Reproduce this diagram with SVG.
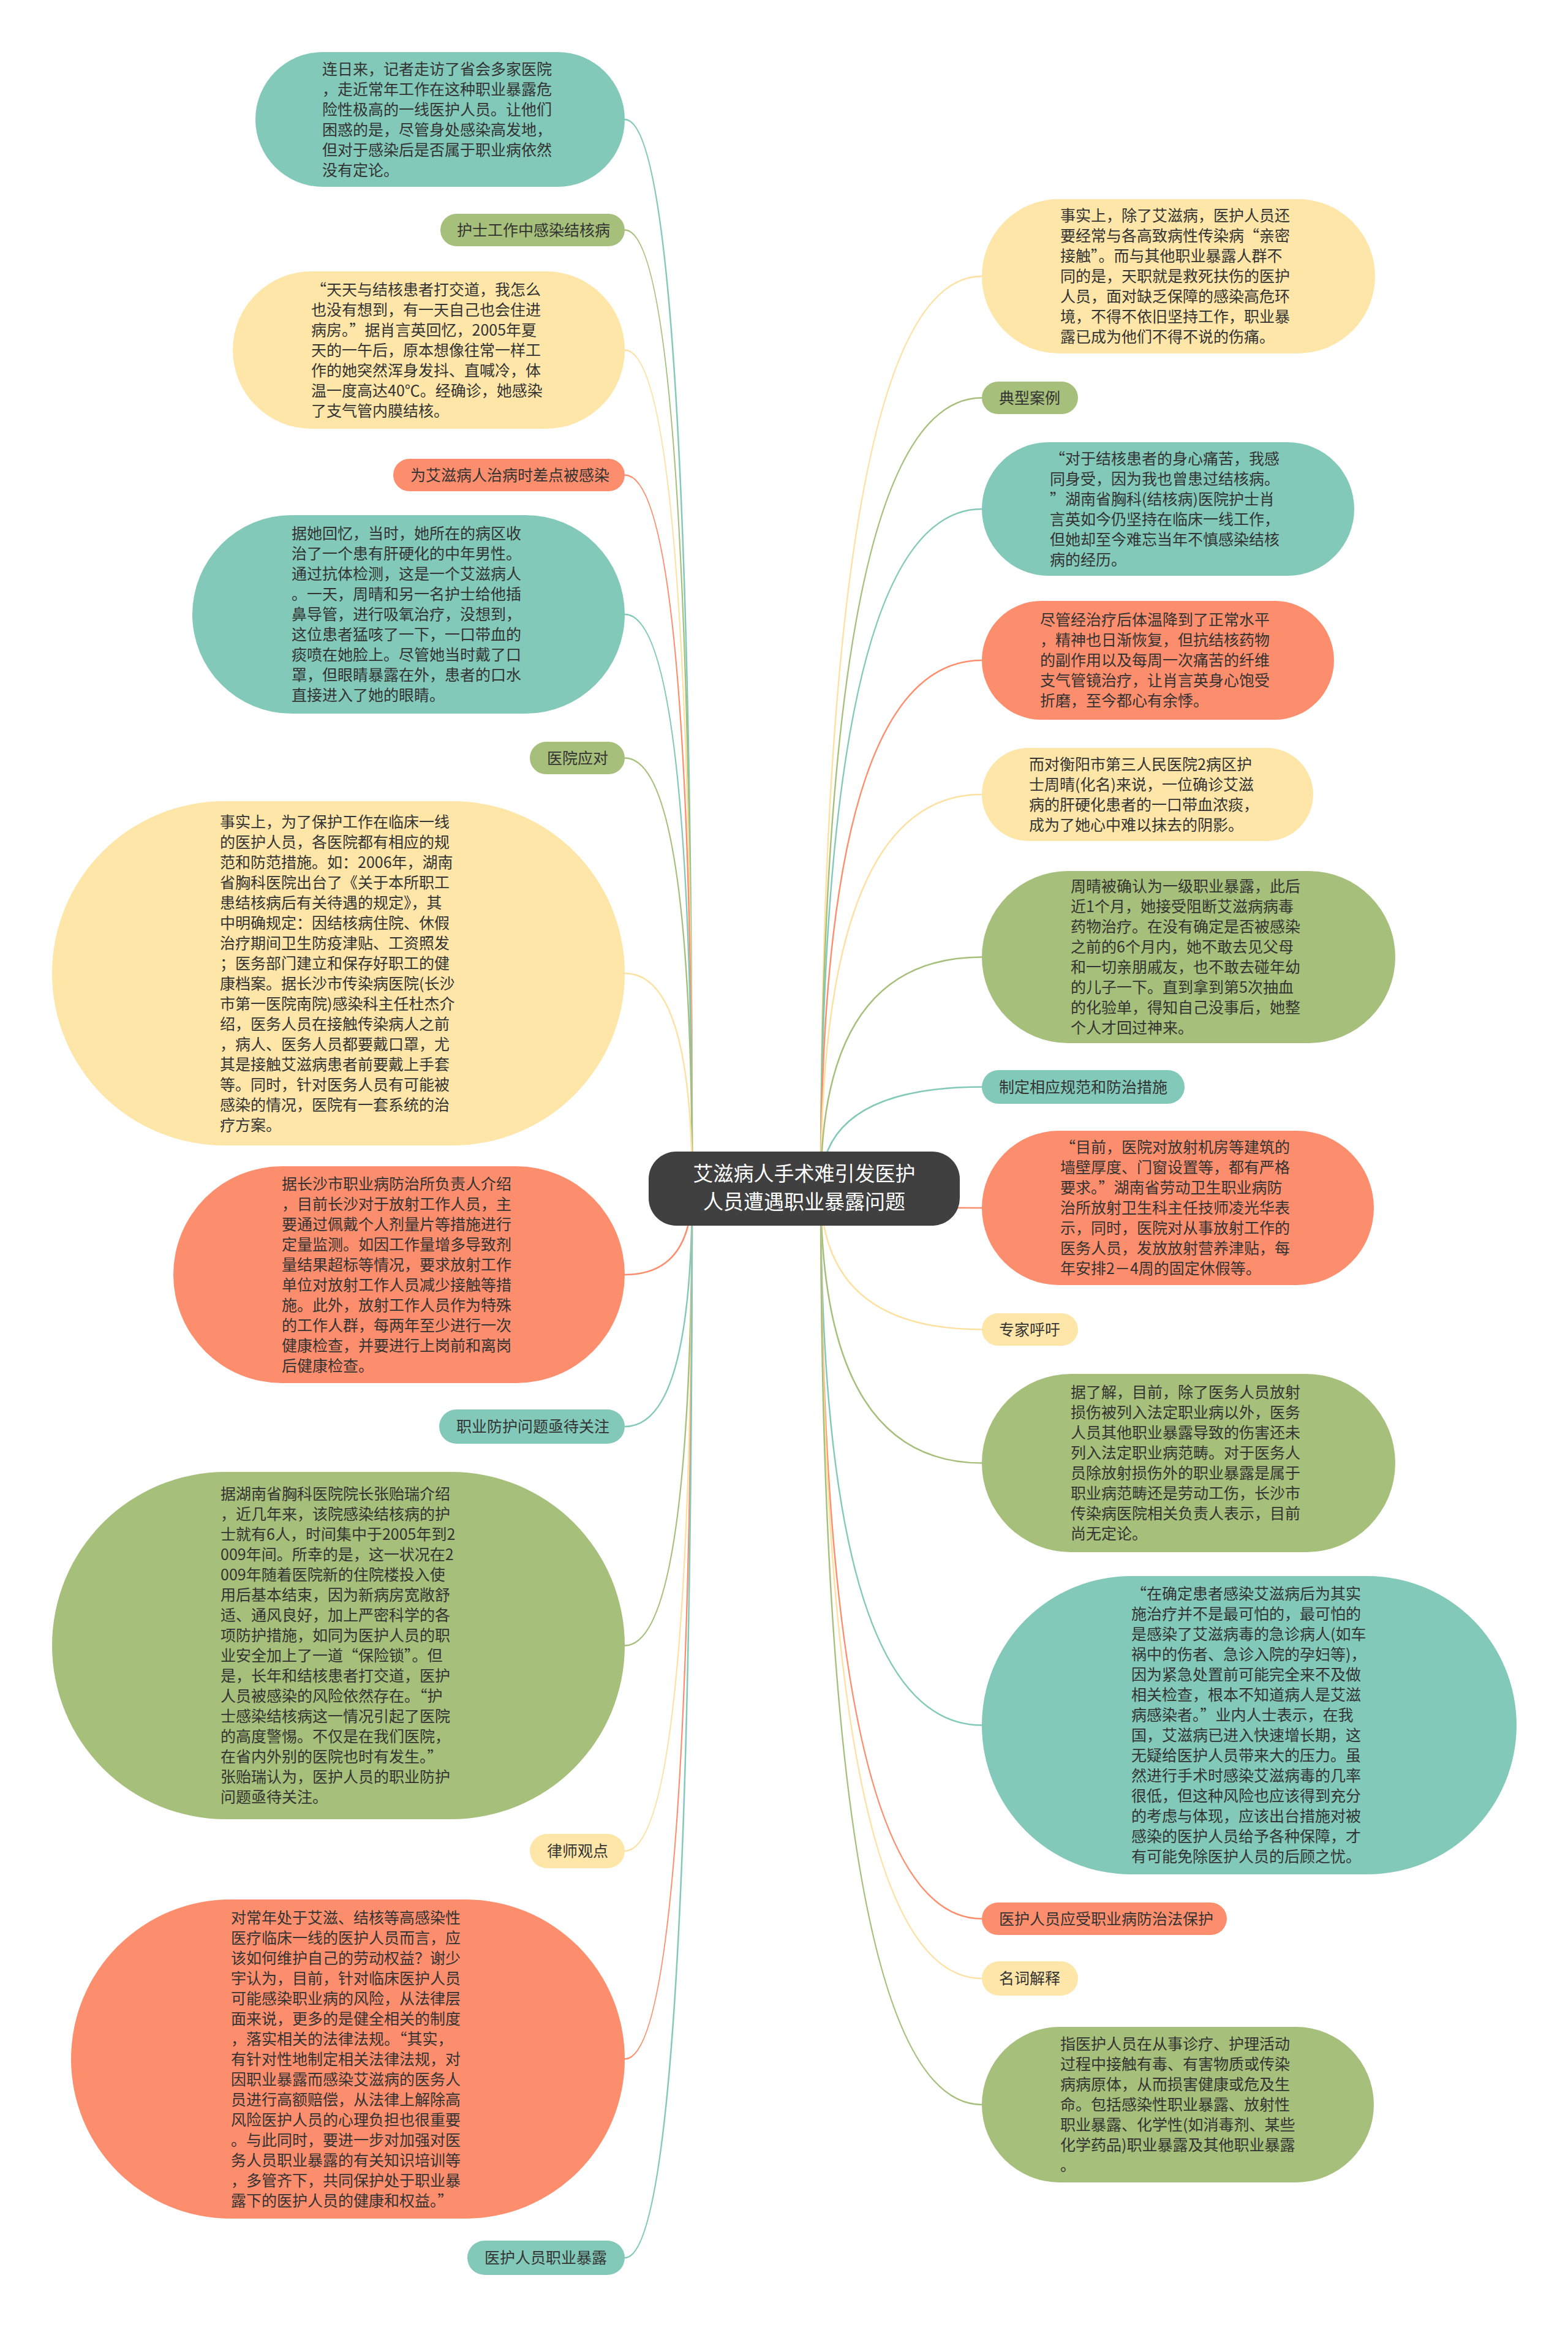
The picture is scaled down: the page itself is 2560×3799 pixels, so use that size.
<svg xmlns="http://www.w3.org/2000/svg" width="2560" height="3799" viewBox="0 0 2560 3799">
<style>
.t{font-family:"Noto Sans CJK SC","Noto Sans",sans-serif;font-size:25px;fill:#333333}
.c{font-family:"Noto Sans CJK SC","Noto Sans",sans-serif;font-size:33px;fill:#ffffff;text-anchor:middle}
.teal{fill:#82c9b9}.green{fill:#a6bf7a}.yellow{fill:#fee6a9}.orange{fill:#fd8e6d}
.lteal{stroke:#82c9b9}.lgreen{stroke:#a6bf7a}.lyellow{stroke:#fee0a0}.lorange{stroke:#fd8e6d}
#links path{fill:none;stroke-width:2.5}
</style>
<rect width="2560" height="3799" fill="#ffffff"/>
<g id="links">
<path class="lteal" d="M1130 1940 Q1130 195 1020 195"/>
<path class="lgreen" d="M1130 1940 Q1130 375.5 1020 375.5"/>
<path class="lyellow" d="M1130 1940 Q1130 571.5 1020 571.5"/>
<path class="lorange" d="M1130 1940 Q1130 775.5 1020 775.5"/>
<path class="lteal" d="M1130 1940 Q1130 1003 1020 1003"/>
<path class="lgreen" d="M1130 1940 Q1130 1237.5 1020 1237.5"/>
<path class="lyellow" d="M1130 1940 Q1130 1589 1020 1589"/>
<path class="lorange" d="M1130 1940 Q1130 2081 1020 2081"/>
<path class="lteal" d="M1130 1940 Q1130 2329 1020 2329"/>
<path class="lgreen" d="M1130 1940 Q1130 2686.5 1020 2686.5"/>
<path class="lyellow" d="M1130 1940 Q1130 3022 1020 3022"/>
<path class="lorange" d="M1130 1940 Q1130 3361.5 1020 3361.5"/>
<path class="lteal" d="M1130 1940 Q1130 3686 1020 3686"/>
<path class="lyellow" d="M1340 1940 Q1340 451 1603 451"/>
<path class="lgreen" d="M1340 1940 Q1340 649.5 1603 649.5"/>
<path class="lteal" d="M1340 1940 Q1340 831 1603 831"/>
<path class="lorange" d="M1340 1940 Q1340 1078 1603 1078"/>
<path class="lyellow" d="M1340 1940 Q1340 1297 1603 1297"/>
<path class="lgreen" d="M1340 1940 Q1340 1562.5 1603 1562.5"/>
<path class="lteal" d="M1340 1940 Q1340 1774.5 1603 1774.5"/>
<path class="lorange" d="M1340 1940 Q1340 1972 1603 1972"/>
<path class="lyellow" d="M1340 1940 Q1340 2170.5 1603 2170.5"/>
<path class="lgreen" d="M1340 1940 Q1340 2388.5 1603 2388.5"/>
<path class="lteal" d="M1340 1940 Q1340 2816.5 1603 2816.5"/>
<path class="lorange" d="M1340 1940 Q1340 3132.5 1603 3132.5"/>
<path class="lyellow" d="M1340 1940 Q1340 3230 1603 3230"/>
<path class="lgreen" d="M1340 1940 Q1340 3436 1603 3436"/>
</g>
<g id="center">
<rect x="1059" y="1880" width="508" height="121" rx="45" fill="#404040"/>
<text class="c" x="1313" y="1928">艾滋病人手术难引发医护</text>
<text class="c" x="1313" y="1974">人员遭遇职业暴露问题</text>
</g>
<g id="L1">
<rect class="teal" x="417" y="85" width="603" height="220" rx="110"/>
<text class="t" x="526" y="121.5"><tspan x="526">连日来，记者走访了省会多家医院</tspan><tspan x="526" dy="33">，走近常年工作在这种职业暴露危</tspan><tspan x="526" dy="33">险性极高的一线医护人员。让他们</tspan><tspan x="526" dy="33">困惑的是，尽管身处感染高发地，</tspan><tspan x="526" dy="33">但对于感染后是否属于职业病依然</tspan><tspan x="526" dy="33">没有定论。</tspan></text>
</g>
<g id="L2">
<rect class="green" x="719" y="349" width="301" height="53" rx="26.5"/>
<text class="t" x="746" y="384.5">护士工作中感染结核病</text>
</g>
<g id="L3">
<rect class="yellow" x="380" y="443" width="640" height="257" rx="128.5"/>
<text class="t" x="508" y="481.5"><tspan x="508">“天天与结核患者打交道，我怎么</tspan><tspan x="508" dy="33">也没有想到，有一天自己也会住进</tspan><tspan x="508" dy="33">病房。”据肖言英回忆，2005年夏</tspan><tspan x="508" dy="33">天的一午后，原本想像往常一样工</tspan><tspan x="508" dy="33">作的她突然浑身发抖、直喊冷，体</tspan><tspan x="508" dy="33">温一度高达40℃。经确诊，她感染</tspan><tspan x="508" dy="33">了支气管内膜结核。</tspan></text>
</g>
<g id="L4">
<rect class="orange" x="642" y="749" width="378" height="53" rx="26.5"/>
<text class="t" x="670" y="784.5">为艾滋病人治病时差点被感染</text>
</g>
<g id="L5">
<rect class="teal" x="314" y="841" width="706" height="324" rx="162"/>
<text class="t" x="476" y="880"><tspan x="476">据她回忆，当时，她所在的病区收</tspan><tspan x="476" dy="33">治了一个患有肝硬化的中年男性。</tspan><tspan x="476" dy="33">通过抗体检测，这是一个艾滋病人</tspan><tspan x="476" dy="33">。一天，周晴和另一名护士给他插</tspan><tspan x="476" dy="33">鼻导管，进行吸氧治疗，没想到，</tspan><tspan x="476" dy="33">这位患者猛咳了一下，一口带血的</tspan><tspan x="476" dy="33">痰喷在她脸上。尽管她当时戴了口</tspan><tspan x="476" dy="33">罩，但眼睛暴露在外，患者的口水</tspan><tspan x="476" dy="33">直接进入了她的眼睛。</tspan></text>
</g>
<g id="L6">
<rect class="green" x="865" y="1211" width="155" height="53" rx="26.5"/>
<text class="t" x="893" y="1246.5">医院应对</text>
</g>
<g id="L7">
<rect class="yellow" x="85" y="1308" width="935" height="562" rx="281"/>
<text class="t" x="359" y="1350.5"><tspan x="359">事实上，为了保护工作在临床一线</tspan><tspan x="359" dy="33">的医护人员，各医院都有相应的规</tspan><tspan x="359" dy="33">范和防范措施。如：2006年，湖南</tspan><tspan x="359" dy="33">省胸科医院出台了《关于本所职工</tspan><tspan x="359" dy="33">患结核病后有关待遇的规定》，其</tspan><tspan x="359" dy="33">中明确规定：因结核病住院、休假</tspan><tspan x="359" dy="33">治疗期间卫生防疫津贴、工资照发</tspan><tspan x="359" dy="33">；医务部门建立和保存好职工的健</tspan><tspan x="359" dy="33">康档案。据长沙市传染病医院(长沙</tspan><tspan x="359" dy="33">市第一医院南院)感染科主任杜杰介</tspan><tspan x="359" dy="33">绍，医务人员在接触传染病人之前</tspan><tspan x="359" dy="33">，病人、医务人员都要戴口罩，尤</tspan><tspan x="359" dy="33">其是接触艾滋病患者前要戴上手套</tspan><tspan x="359" dy="33">等。同时，针对医务人员有可能被</tspan><tspan x="359" dy="33">感染的情况，医院有一套系统的治</tspan><tspan x="359" dy="33">疗方案。</tspan></text>
</g>
<g id="L8">
<rect class="orange" x="283" y="1904" width="737" height="354" rx="177"/>
<text class="t" x="460" y="1941.5"><tspan x="460">据长沙市职业病防治所负责人介绍</tspan><tspan x="460" dy="33">，目前长沙对于放射工作人员，主</tspan><tspan x="460" dy="33">要通过佩戴个人剂量片等措施进行</tspan><tspan x="460" dy="33">定量监测。如因工作量增多导致剂</tspan><tspan x="460" dy="33">量结果超标等情况，要求放射工作</tspan><tspan x="460" dy="33">单位对放射工作人员减少接触等措</tspan><tspan x="460" dy="33">施。此外，放射工作人员作为特殊</tspan><tspan x="460" dy="33">的工作人群，每两年至少进行一次</tspan><tspan x="460" dy="33">健康检查，并要进行上岗前和离岗</tspan><tspan x="460" dy="33">后健康检查。</tspan></text>
</g>
<g id="L9">
<rect class="teal" x="717" y="2301" width="303" height="56" rx="28"/>
<text class="t" x="745" y="2338">职业防护问题亟待关注</text>
</g>
<g id="L10">
<rect class="green" x="85" y="2403" width="935" height="567" rx="283.5"/>
<text class="t" x="360" y="2448"><tspan x="360">据湖南省胸科医院院长张贻瑞介绍</tspan><tspan x="360" dy="33">，近几年来，该院感染结核病的护</tspan><tspan x="360" dy="33">士就有6人，时间集中于2005年到2</tspan><tspan x="360" dy="33">009年间。所幸的是，这一状况在2</tspan><tspan x="360" dy="33">009年随着医院新的住院楼投入使</tspan><tspan x="360" dy="33">用后基本结束，因为新病房宽敞舒</tspan><tspan x="360" dy="33">适、通风良好，加上严密科学的各</tspan><tspan x="360" dy="33">项防护措施，如同为医护人员的职</tspan><tspan x="360" dy="33">业安全加上了一道“保险锁”。但</tspan><tspan x="360" dy="33">是，长年和结核患者打交道，医护</tspan><tspan x="360" dy="33">人员被感染的风险依然存在。“护</tspan><tspan x="360" dy="33">士感染结核病这一情况引起了医院</tspan><tspan x="360" dy="33">的高度警惕。不仅是在我们医院，</tspan><tspan x="360" dy="33">在省内外别的医院也时有发生。”</tspan><tspan x="360" dy="33">张贻瑞认为，医护人员的职业防护</tspan><tspan x="360" dy="33">问题亟待关注。</tspan></text>
</g>
<g id="L11">
<rect class="yellow" x="865" y="2994" width="155" height="56" rx="28"/>
<text class="t" x="893" y="3031">律师观点</text>
</g>
<g id="L12">
<rect class="orange" x="116" y="3101" width="904" height="521" rx="260.5"/>
<text class="t" x="377" y="3139.5"><tspan x="377">对常年处于艾滋、结核等高感染性</tspan><tspan x="377" dy="33">医疗临床一线的医护人员而言，应</tspan><tspan x="377" dy="33">该如何维护自己的劳动权益？谢少</tspan><tspan x="377" dy="33">宇认为，目前，针对临床医护人员</tspan><tspan x="377" dy="33">可能感染职业病的风险，从法律层</tspan><tspan x="377" dy="33">面来说，更多的是健全相关的制度</tspan><tspan x="377" dy="33">，落实相关的法律法规。“其实，</tspan><tspan x="377" dy="33">有针对性地制定相关法律法规，对</tspan><tspan x="377" dy="33">因职业暴露而感染艾滋病的医务人</tspan><tspan x="377" dy="33">员进行高额赔偿，从法律上解除高</tspan><tspan x="377" dy="33">风险医护人员的心理负担也很重要</tspan><tspan x="377" dy="33">。与此同时，要进一步对加强对医</tspan><tspan x="377" dy="33">务人员职业暴露的有关知识培训等</tspan><tspan x="377" dy="33">，多管齐下，共同保护处于职业暴</tspan><tspan x="377" dy="33">露下的医护人员的健康和权益。”</tspan></text>
</g>
<g id="L13">
<rect class="teal" x="763" y="3658" width="257" height="56" rx="28"/>
<text class="t" x="791" y="3695">医护人员职业暴露</text>
</g>
<g id="R1">
<rect class="yellow" x="1603" y="325" width="642" height="252" rx="126"/>
<text class="t" x="1731" y="361"><tspan x="1731">事实上，除了艾滋病，医护人员还</tspan><tspan x="1731" dy="33">要经常与各高致病性传染病“亲密</tspan><tspan x="1731" dy="33">接触”。而与其他职业暴露人群不</tspan><tspan x="1731" dy="33">同的是，天职就是救死扶伤的医护</tspan><tspan x="1731" dy="33">人员，面对缺乏保障的感染高危环</tspan><tspan x="1731" dy="33">境，不得不依旧坚持工作，职业暴</tspan><tspan x="1731" dy="33">露已成为他们不得不说的伤痛。</tspan></text>
</g>
<g id="R2">
<rect class="green" x="1603" y="623" width="157" height="53" rx="26.5"/>
<text class="t" x="1631" y="658.5">典型案例</text>
</g>
<g id="R3">
<rect class="teal" x="1603" y="722" width="608" height="218" rx="109"/>
<text class="t" x="1714" y="757.5"><tspan x="1714">“对于结核患者的身心痛苦，我感</tspan><tspan x="1714" dy="33">同身受，因为我也曾患过结核病。</tspan><tspan x="1714" dy="33">”湖南省胸科(结核病)医院护士肖</tspan><tspan x="1714" dy="33">言英如今仍坚持在临床一线工作，</tspan><tspan x="1714" dy="33">但她却至今难忘当年不慎感染结核</tspan><tspan x="1714" dy="33">病的经历。</tspan></text>
</g>
<g id="R4">
<rect class="orange" x="1603" y="981" width="575" height="194" rx="97"/>
<text class="t" x="1698" y="1021"><tspan x="1698">尽管经治疗后体温降到了正常水平</tspan><tspan x="1698" dy="33">，精神也日渐恢复，但抗结核药物</tspan><tspan x="1698" dy="33">的副作用以及每周一次痛苦的纤维</tspan><tspan x="1698" dy="33">支气管镜治疗，让肖言英身心饱受</tspan><tspan x="1698" dy="33">折磨，至今都心有余悸。</tspan></text>
</g>
<g id="R5">
<rect class="yellow" x="1603" y="1221" width="541" height="152" rx="76"/>
<text class="t" x="1680" y="1256.5"><tspan x="1680">而对衡阳市第三人民医院2病区护</tspan><tspan x="1680" dy="33">士周晴(化名)来说，一位确诊艾滋</tspan><tspan x="1680" dy="33">病的肝硬化患者的一口带血浓痰，</tspan><tspan x="1680" dy="33">成为了她心中难以抹去的阴影。</tspan></text>
</g>
<g id="R6">
<rect class="green" x="1603" y="1422" width="675" height="281" rx="140.5"/>
<text class="t" x="1748" y="1456"><tspan x="1748">周晴被确认为一级职业暴露，此后</tspan><tspan x="1748" dy="33">近1个月，她接受阻断艾滋病病毒</tspan><tspan x="1748" dy="33">药物治疗。在没有确定是否被感染</tspan><tspan x="1748" dy="33">之前的6个月内，她不敢去见父母</tspan><tspan x="1748" dy="33">和一切亲朋戚友，也不敢去碰年幼</tspan><tspan x="1748" dy="33">的儿子一下。直到拿到第5次抽血</tspan><tspan x="1748" dy="33">的化验单，得知自己没事后，她整</tspan><tspan x="1748" dy="33">个人才回过神来。</tspan></text>
</g>
<g id="R7">
<rect class="teal" x="1603" y="1747" width="331" height="55" rx="27.5"/>
<text class="t" x="1631" y="1783.5">制定相应规范和防治措施</text>
</g>
<g id="R8">
<rect class="orange" x="1603" y="1846" width="640" height="252" rx="126"/>
<text class="t" x="1731" y="1882"><tspan x="1731">“目前，医院对放射机房等建筑的</tspan><tspan x="1731" dy="33">墙壁厚度、门窗设置等，都有严格</tspan><tspan x="1731" dy="33">要求。”湖南省劳动卫生职业病防</tspan><tspan x="1731" dy="33">治所放射卫生科主任技师凌光华表</tspan><tspan x="1731" dy="33">示，同时，医院对从事放射工作的</tspan><tspan x="1731" dy="33">医务人员，发放放射营养津贴，每</tspan><tspan x="1731" dy="33">年安排2－4周的固定休假等。</tspan></text>
</g>
<g id="R9">
<rect class="yellow" x="1603" y="2144" width="157" height="53" rx="26.5"/>
<text class="t" x="1631" y="2179.5">专家呼吁</text>
</g>
<g id="R10">
<rect class="green" x="1603" y="2243" width="675" height="291" rx="145.5"/>
<text class="t" x="1748" y="2282"><tspan x="1748">据了解，目前，除了医务人员放射</tspan><tspan x="1748" dy="33">损伤被列入法定职业病以外，医务</tspan><tspan x="1748" dy="33">人员其他职业暴露导致的伤害还未</tspan><tspan x="1748" dy="33">列入法定职业病范畴。对于医务人</tspan><tspan x="1748" dy="33">员除放射损伤外的职业暴露是属于</tspan><tspan x="1748" dy="33">职业病范畴还是劳动工伤，长沙市</tspan><tspan x="1748" dy="33">传染病医院相关负责人表示，目前</tspan><tspan x="1748" dy="33">尚无定论。</tspan></text>
</g>
<g id="R11">
<rect class="teal" x="1603" y="2573" width="873" height="487" rx="243.5"/>
<text class="t" x="1847" y="2611"><tspan x="1847">“在确定患者感染艾滋病后为其实</tspan><tspan x="1847" dy="33">施治疗并不是最可怕的，最可怕的</tspan><tspan x="1847" dy="33">是感染了艾滋病毒的急诊病人(如车</tspan><tspan x="1847" dy="33">祸中的伤者、急诊入院的孕妇等)，</tspan><tspan x="1847" dy="33">因为紧急处置前可能完全来不及做</tspan><tspan x="1847" dy="33">相关检查，根本不知道病人是艾滋</tspan><tspan x="1847" dy="33">病感染者。”业内人士表示，在我</tspan><tspan x="1847" dy="33">国，艾滋病已进入快速增长期，这</tspan><tspan x="1847" dy="33">无疑给医护人员带来大的压力。虽</tspan><tspan x="1847" dy="33">然进行手术时感染艾滋病毒的几率</tspan><tspan x="1847" dy="33">很低，但这种风险也应该得到充分</tspan><tspan x="1847" dy="33">的考虑与体现，应该出台措施对被</tspan><tspan x="1847" dy="33">感染的医护人员给予各种保障，才</tspan><tspan x="1847" dy="33">有可能免除医护人员的后顾之忧。</tspan></text>
</g>
<g id="R12">
<rect class="orange" x="1603" y="3106" width="400" height="53" rx="26.5"/>
<text class="t" x="1631" y="3141.5">医护人员应受职业病防治法保护</text>
</g>
<g id="R13">
<rect class="yellow" x="1603" y="3202" width="157" height="56" rx="28"/>
<text class="t" x="1631" y="3239">名词解释</text>
</g>
<g id="R14">
<rect class="green" x="1603" y="3309" width="640" height="254" rx="127"/>
<text class="t" x="1731" y="3346"><tspan x="1731">指医护人员在从事诊疗、护理活动</tspan><tspan x="1731" dy="33">过程中接触有毒、有害物质或传染</tspan><tspan x="1731" dy="33">病病原体，从而损害健康或危及生</tspan><tspan x="1731" dy="33">命。包括感染性职业暴露、放射性</tspan><tspan x="1731" dy="33">职业暴露、化学性(如消毒剂、某些</tspan><tspan x="1731" dy="33">化学药品)职业暴露及其他职业暴露</tspan><tspan x="1731" dy="33">。</tspan></text>
</g>
</svg>
